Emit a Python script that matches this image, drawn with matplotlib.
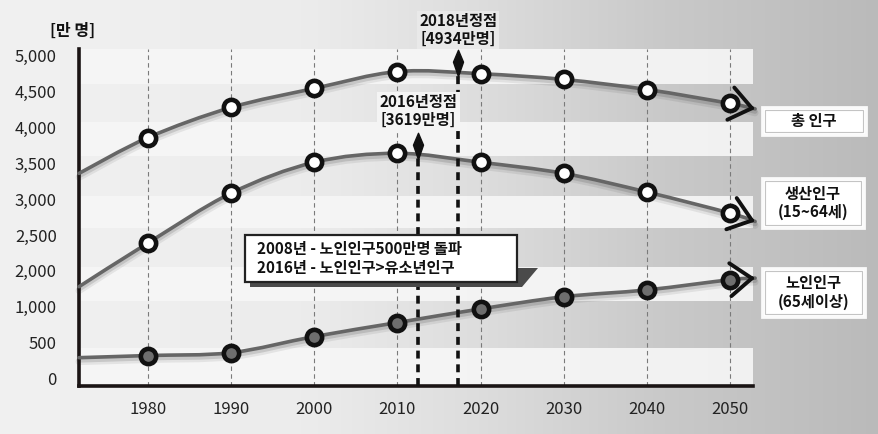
import numpy as np
import matplotlib
matplotlib.use('Agg')
import matplotlib.pyplot as plt
from matplotlib.path import Path
from matplotlib.patches import PathPatch, Rectangle, Polygon
from matplotlib.transforms import ScaledTranslation, blended_transform_factory

plt.rcParams['font.family'] = ['Noto Sans CJK KR', 'DejaVu Sans']

# ---------------- data ----------------
years = [1980, 1990, 2000, 2010, 2020, 2030, 2040, 2050]
total_pop = [3860, 4280, 4545, 4780, 4750, 4670, 4530, 4335]
working_pop = [2390, 3085, 3515, 3640, 3515, 3360, 3100, 2805]
elderly_pop = [320, 360, 585, 780, 970, 1280, 1470, 1755]

# unmarked curve ends (left axis edge / arrow tip)
curve_start_year = 1971.7
curve_end_year = 2053.0
total_ends = [3360, 4260]
working_ends = [1560, 2690]
elderly_ends = [290, 1800]

series_names = ['총 인구', '생산인구\n(15~64세)', '노인인구\n(65세이상)']

ytick_values = [0, 500, 1000, 2000, 2500, 3000, 3500, 4000, 4500, 5000]
ytick_labels = ['0', '500', '1,000', '2,000', '2,500', '3,000', '3,500', '4,000', '4,500', '5,000']
y_unit = '[만 명]'

peak_years_pos = [2012.5, 2017.3]        # where the peak markers are drawn
peak_marker_vals = [3738, 4895]
peak_texts = ['2016년정점\n[3619만명]', '2018년정점\n[4934만명]']
info_text = '2008년 - 노인인구500만명 돌파\n2016년 - 노인인구>유소년인구'

# ---------------- scale ----------------
yi = np.arange(len(ytick_values), dtype=float)
yv = np.array(ytick_values, dtype=float)


def fwd(v):
    v = np.asarray(v, dtype=float)
    out = np.interp(v, yv, yi)
    out = np.where(v < yv[0], (v - yv[0]) / 500.0, out)
    out = np.where(v > yv[-1], yi[-1] + (v - yv[-1]) / 500.0, out)
    return out


def inv(i):
    i = np.asarray(i, dtype=float)
    out = np.interp(i, yi, yv)
    out = np.where(i < 0, yv[0] + i * 500.0, out)
    out = np.where(i > yi[-1], yv[-1] + (i - yi[-1]) * 500.0, out)
    return out


W, H = 879, 434
fig = plt.figure(figsize=(W / 100, H / 100), dpi=100)


def fx(px):
    return px / W


def fy(py):
    return 1 - py / H


# background gradient
bg = fig.add_axes([0, 0, 1, 1], zorder=-10)
bg.set_axis_off()
xs = np.linspace(0, 1, 400)
lv = np.interp(xs, [0, 0.35, 0.55, 0.75, 1.0], [0.945, 0.925, 0.865, 0.79, 0.73])
img = np.tile(lv, (2, 1))
bg.imshow(np.dstack([img, img, img]), aspect='auto', extent=[0, 1, 0, 1], origin='lower')
bg.set_xlim(0, 1)
bg.set_ylim(0, 1)

ax = fig.add_axes([fx(79), fy(386), fx(753) - fx(79), fy(49) - fy(386)])
ax.set_facecolor('none')
ax.set_yscale('function', functions=(fwd, inv))
ax.set_xlim(1971.7, 2052.75)
ax.set_ylim(-105, 5095)

# light horizontal bands
for lo, hi in [(-105, 425), (1150, 2050), (2600, 3050), (3600, 4075), (4600, 5095)]:
    ax.axhspan(lo, hi, color='#f6f6f6', alpha=0.92, lw=0, zorder=0)

for y in years:
    ax.axvline(y, color='#7a7a7a', lw=0.8, ls=(0, (4, 3)), zorder=1)

for s in ['top', 'right']:
    ax.spines[s].set_visible(False)
ax.spines['left'].set_linewidth(2.6)
ax.spines['bottom'].set_linewidth(2.6)
ax.spines['left'].set_color('#1a1414')
ax.spines['bottom'].set_color('#1a1414')

ax.set_yticks(ytick_values)
ax.set_yticklabels(ytick_labels)
ax.set_xticks(years)
ax.set_xticklabels([str(y) for y in years])
ax.tick_params(axis='y', length=0, pad=16, labelsize=12, colors='#222222')
ax.tick_params(axis='x', length=0, pad=11, labelsize=12, colors='#222222')
ax.minorticks_off()


def smooth_path(xv, yvals):
    xv = np.asarray(xv, float)
    iy = fwd(yvals)
    P = np.column_stack([xv, iy])
    n = len(P)
    verts = [P[0]]
    codes = [Path.MOVETO]
    for k in range(n - 1):
        p0 = P[k - 1] if k > 0 else P[k]
        p1 = P[k]
        p2 = P[k + 1]
        p3 = P[k + 2] if k + 2 < n else P[k + 1]
        c1 = p1 + (p2 - p0) / 6.0
        c2 = p2 - (p3 - p1) / 6.0
        verts += [c1, c2, p2]
        codes += [Path.CURVE4] * 3
    V = np.array(verts)
    V[:, 1] = inv(V[:, 1])
    return Path(V, codes), V


all_series = [(total_pop, total_ends, 'white'),
              (working_pop, working_ends, 'white'),
              (elderly_pop, elderly_ends, '#6e6e6e')]

for vals, ends, mfc in all_series:
    xv = [curve_start_year] + years + [curve_end_year]
    yvals = [ends[0]] + vals + [ends[1]]
    path, V = smooth_path(xv, yvals)
    # soft shadow
    for off, lw, a in [(4, 5, 0.07), (2.5, 3.5, 0.12)]:
        tr = ax.transData + ScaledTranslation(0, -off / 100, fig.dpi_scale_trans)
        ax.add_patch(PathPatch(path, fill=False, ec='#000000', lw=lw, alpha=a,
                               transform=tr, zorder=2, capstyle='round', clip_on=False))
    ax.add_patch(PathPatch(path, fill=False, ec='#666666', lw=2.6, zorder=3,
                           capstyle='round', joinstyle='round', clip_on=False))
    ax.plot(years, vals, ls='none', marker='o', ms=11, mfc=mfc, mec='#111111',
            mew=3.3, zorder=5)
    # arrow head at the end
    tail = V[-2]
    ax.annotate('', xy=(xv[-1], yvals[-1]), xytext=(tail[0], tail[1]),
                arrowprops=dict(arrowstyle='->,head_length=0.42,head_width=0.32',
                                lw=2.8, color='#111111', shrinkA=0, shrinkB=0,
                                mutation_scale=37),
                zorder=6, annotation_clip=False)

# peak markers
diamond = Path([(0, 1), (0.38, 0.1), (0, -1), (-0.38, 0.1), (0, 1)],
               [Path.MOVETO, Path.LINETO, Path.LINETO, Path.LINETO, Path.CLOSEPOLY])
for xp, yp in zip(peak_years_pos, peak_marker_vals):
    ax.plot([xp, xp], [-105, yp], color='#111111', lw=2.6, ls=(0, (2.2, 1.6)), zorder=4)
    ax.plot([xp], [yp], marker=diamond, ms=19, color='#111111', zorder=6)

tb = blended_transform_factory(ax.transData, fig.transFigure)
ax.text(peak_years_pos[0], fy(111), peak_texts[0], transform=tb, ha='center', va='center',
        fontsize=11, fontweight='bold', linespacing=1.15, color='#111111', zorder=7,
        bbox=dict(boxstyle='square,pad=0.15', fc='#f4f4f4', ec='none'))
ax.text(peak_years_pos[1], fy(30), peak_texts[1], transform=tb, ha='center', va='center',
        fontsize=11, fontweight='bold', linespacing=1.15, color='#111111', zorder=7,
        bbox=dict(boxstyle='square,pad=0.15', fc='#e9e9e9', ec='none'), clip_on=False)

# info box
shadow = Polygon([(fx(250), fy(282)), (fx(517), fy(282)), (fx(517), fy(268)), (fx(538), fy(268)),
                  (fx(522), fy(287)), (fx(250), fy(287))], closed=True,
                 transform=fig.transFigure, fc='#4a4a4a', ec='none', zorder=8)
fig.patches.append(shadow)
fig.patches.append(Rectangle((fx(245), fy(282)), fx(517) - fx(245), fy(235) - fy(282),
                             transform=fig.transFigure, fc='white', ec='#222222', lw=1.6, zorder=9))
fig.text(fx(257), fy(258.5), info_text, ha='left', va='center', fontsize=11, fontweight='bold',
         linespacing=1.2, color='#111111', zorder=10)

# right side labels
boxes = [(762, 107, 866, 135), (762, 178, 864, 228), (762, 268, 865, 317)]
for (x0, y0, x1, y1), name in zip(boxes, series_names):
    fig.patches.append(Rectangle((fx(x0), fy(y1)), fx(x1) - fx(x0), fy(y0) - fy(y1),
                                 transform=fig.transFigure, fc='white', ec='#fafafa', lw=2, zorder=9))
    fig.patches.append(Rectangle((fx(x0 + 3), fy(y1 - 3)), fx(x1 - x0 - 6), fy(y0 + 3) - fy(y1 - 3),
                                 transform=fig.transFigure, fill=False, ec='#c4c4c4', lw=0.8, zorder=9))
    fig.text(fx((x0 + x1) / 2), fy((y0 + y1) / 2), name, ha='center', va='center', fontsize=11,
             fontweight='bold', linespacing=1.15, color='#111111', zorder=10)

fig.text(fx(73), fy(31), y_unit, ha='center', va='center', fontsize=11.5, fontweight='bold',
         color='#111111')

fig.savefig('out.png', dpi=100)
